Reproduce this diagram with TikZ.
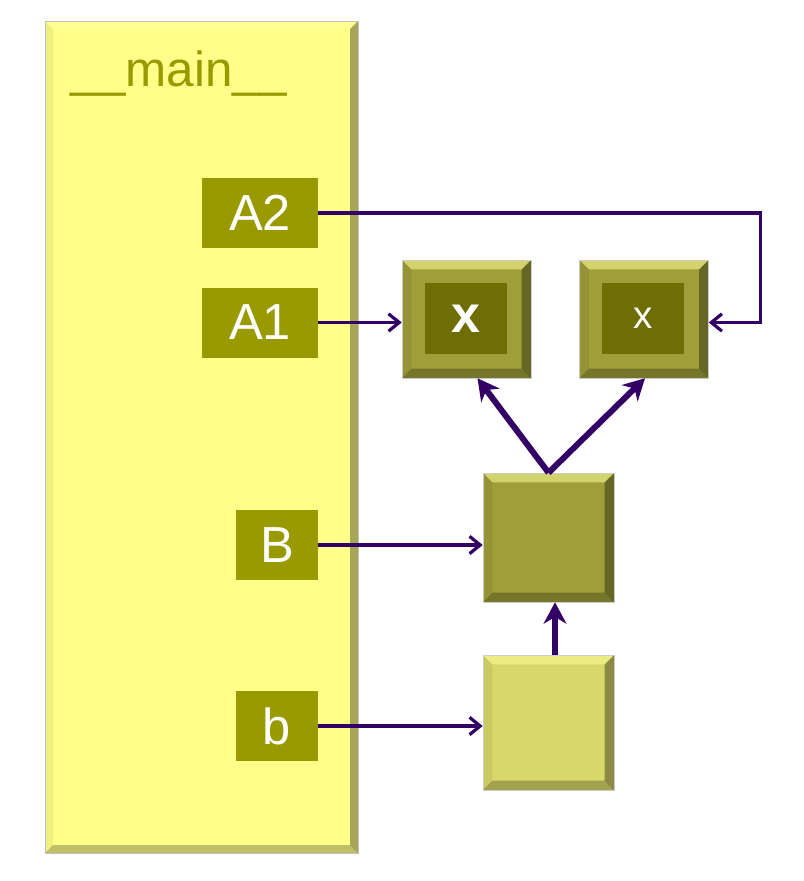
\documentclass[tikz,border=0pt]{standalone}
\usepackage{fontspec}
\setmainfont{Liberation Sans}
\usetikzlibrary{arrows.meta,calc}
\definecolor{mainfill}{HTML}{FFFF8A}
\definecolor{maintext}{HTML}{999900}
\definecolor{lblfill}{HTML}{999900}
\definecolor{objfill}{HTML}{9E9E3A}
\definecolor{innerfill}{HTML}{6E6E04}
\definecolor{lightobj}{HTML}{D7D76A}
\definecolor{arrowc}{HTML}{330066}
\definecolor{hilite}{HTML}{FFFF9A}
\tikzset{
  bevel/.style={path picture={
    \coordinate (bnw) at (path picture bounding box.north west);
    \coordinate (bne) at (path picture bounding box.north east);
    \coordinate (bsw) at (path picture bounding box.south west);
    \coordinate (bse) at (path picture bounding box.south east);
    \fill[hilite,opacity=0.55] (bnw) -- (bne) -- ($(bne)+(-#1,-#1)$) -- ($(bnw)+(#1,-#1)$) -- cycle;
    \fill[black,opacity=0.06] (bnw) -- ($(bnw)+(#1,-#1)$) -- ($(bsw)+(#1,#1)$) -- (bsw) -- cycle;
    \fill[black,opacity=0.35] (bne) -- ($(bne)+(-#1,-#1)$) -- ($(bse)+(-#1,#1)$) -- (bse) -- cycle;
    \fill[black,opacity=0.25] (bsw) -- ($(bsw)+(#1,#1)$) -- ($(bse)+(-#1,#1)$) -- (bse) -- cycle;
  }},
  panel/.style={rectangle, inner sep=0pt, fill=mainfill, draw=black!25, line width=0.4pt, bevel=6pt},
  lbl/.style={rectangle, inner sep=0pt, fill=lblfill, text=white, font=\fontsize{38}{40}\selectfont, minimum height=52.5pt},
  obj/.style={rectangle, inner sep=0pt, fill=objfill, draw=black!20, line width=0.4pt, bevel=7pt},
  inner/.style={rectangle, inner sep=0pt, fill=innerfill, text=white, minimum width=61.5pt, minimum height=53.25pt},
  thin/.style={draw=arrowc, line width=2.4pt, -{Straight Barb[length=8pt,width=13pt,line width=2.4pt]}},
  thick/.style={draw=arrowc, line width=4.5pt, -{Stealth[length=16pt,width=17pt,inset=5pt]}},
}
\begin{document}
\begin{tikzpicture}[x=0.75pt,y=-0.75pt]
\useasboundingbox (0,0) rectangle (803,881);
\node[panel, minimum width=234.75pt, minimum height=624pt] (main) at (201.5,437) {};
\node[text=maintext, font=\fontsize{37}{40}\selectfont, anchor=base west] (title) at (66,86) {\_\_main\_\_};
\node[lbl, minimum width=87pt] (A2) at (260,213) {A2};
\node[lbl, minimum width=87pt] (A1) at (260,322.5) {A1};
\node[lbl, minimum width=61.5pt] (Bl) at (277,545) {B};
\node[lbl, minimum width=61.5pt] (bl) at (277,726) {b};
\node[obj, minimum width=96.75pt, minimum height=88.5pt] (x1) at (466.5,319) {};
\node[inner, font=\bfseries\fontsize{39}{40}\selectfont] (x1i) at (466,318.5) {x};
\node[obj, minimum width=96.75pt, minimum height=88.5pt] (x2) at (644,319) {};
\node[inner, font=\fontsize{29}{30}\selectfont] (x2i) at (643,318.5) {x};
\node[obj, minimum width=98.25pt, minimum height=96.75pt] (Bo) at (548.5,537.5) {};
\node[obj, fill=lightobj, minimum width=98.25pt, minimum height=101.25pt] (bo) at (548.5,722.5) {};
\draw[thin] (A2.east) -- ++(442,0) |- (x2.east |- A1.east);
\draw[thin] (A1.east) -- (A1.east -| x1.west);
\draw[thin] (Bl.east) -- (Bl.east -| Bo.west);
\draw[thin] (bl.east) -- (bl.east -| bo.west);
\draw[thick] (Bo.north) -- ($(x1.south)+(11,0)$);
\draw[thick] (Bo.north) -- ($(x2.south)+(1,0)$);
\draw[thick] ($(bo.north)+(6.5,0)$) -- ($(Bo.south)+(6.5,0)$);
\end{tikzpicture}
\end{document}
